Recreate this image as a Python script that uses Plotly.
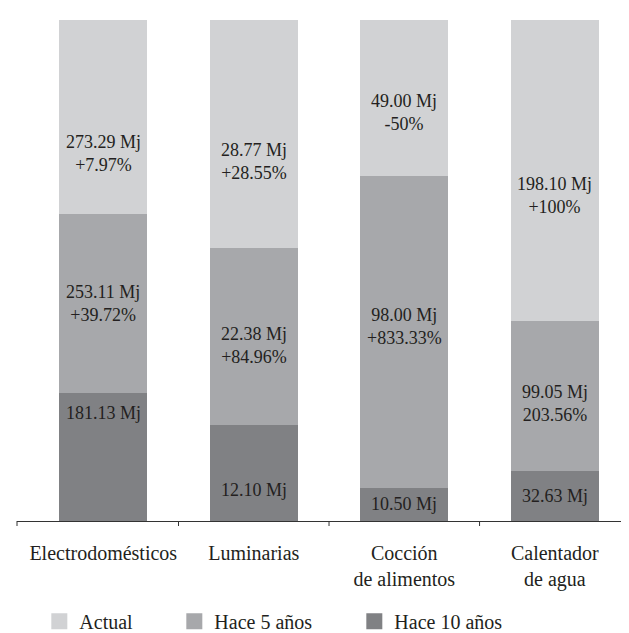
import plotly.graph_objects as go

categories = ["Electrodomésticos", "Luminarias", "Cocción<br>de alimentos", "Calentador<br>de agua"]

series_names = ["Actual", "Hace 5 años", "Hace 10 años"]
actual_mj = [273.29, 28.77, 49.00, 198.10]
actual_change = ["+7.97%", "+28.55%", "-50%", "+100%"]
hace5_mj = [253.11, 22.38, 98.00, 99.05]
hace5_change = ["+39.72%", "+84.96%", "+833.33%", "203.56%"]
hace10_mj = [181.13, 12.10, 10.50, 32.63]

colors = {"Actual": "#d1d2d4", "Hace 5 años": "#a7a8ab", "Hace 10 años": "#808184"}
legend_widths = {"Actual": 90, "Hace 5 años": 135, "Hace 10 años": 120}
# vertical shift (px, + = up) of each value label relative to its segment centre
label_shift = {
    "Actual": [-37, -28, -15, -25],
    "Hace 5 años": [0, -9, 5, -7],
    "Hace 10 años": [44, -17, 0, 0],
}

FONT = "Liberation Serif, Times New Roman, serif"
TXT = "#231f20"

def fmt(v):
    return f"{v:.2f} Mj"

text_actual = [f"{fmt(v)}<br>{c}" for v, c in zip(actual_mj, actual_change)]
text_5 = [f"{fmt(v)}<br>{c}" for v, c in zip(hace5_mj, hace5_change)]
text_10 = [fmt(v) for v in hace10_mj]

fig = go.Figure()
stack = [
    ("Hace 10 años", hace10_mj, text_10),
    ("Hace 5 años", hace5_mj, text_5),
    ("Actual", actual_mj, text_actual),
]
totals = [a + b + c for a, b, c in zip(actual_mj, hace5_mj, hace10_mj)]
base = [0.0] * len(categories)
annotations = []
for name, vals, txt in stack:
    fig.add_trace(go.Bar(
        x=categories, y=vals, name=name,
        marker=dict(color=colors[name], line=dict(width=0)),
        width=0.585, showlegend=False, hoverinfo="skip",
    ))
    for i, (cat, v, t) in enumerate(zip(categories, vals, txt)):
        pct = v / totals[i] * 100
        annotations.append(dict(
            x=cat, y=base[i] + pct / 2, xref="x", yref="y", text=t,
            showarrow=False, yanchor="middle", xanchor="center",
            yshift=label_shift[name][i],
            font=dict(family=FONT, size=18, color=TXT),
        ))
        base[i] += pct

# legend entries (square swatches)
for name in series_names:
    fig.add_trace(go.Scatter(
        x=[None], y=[None], mode="markers", name=name,
        marker=dict(symbol="square", size=16, color=colors[name]),
        legendwidth=legend_widths[name], showlegend=True,
    ))

shapes = []
for xv in [0.5, 1.5, 2.5]:
    shapes.append(dict(type="line", xref="x", yref="paper", x0=xv, x1=xv,
                       ysizemode="pixel", yanchor=0, y0=0, y1=-5,
                       line=dict(color="#333333", width=1)))
shapes.append(dict(type="line", xref="paper", yref="paper", x0=0, x1=0,
                   ysizemode="pixel", yanchor=0, y0=0, y1=-5,
                   line=dict(color="#333333", width=1)))

fig.update_layout(
    width=629, height=633,
    margin=dict(l=9, r=0, t=12, b=106),
    barmode="stack", barnorm="percent",
    plot_bgcolor="white", paper_bgcolor="white",
    font=dict(family=FONT, size=20, color=TXT),
    xaxis=dict(range=[-0.573, 3.546], showline=True, linecolor="#333333", linewidth=1,
               ticks="", showgrid=False, zeroline=False, ticklabelstandoff=14,
               tickfont=dict(family=FONT, size=20, color=TXT), fixedrange=True),
    yaxis=dict(range=[0, 100], visible=False, fixedrange=True),
    showlegend=True,
    legend=dict(orientation="h", traceorder="normal", x=0.036, xanchor="left",
                y=-0.161, yanchor="top",
                font=dict(family=FONT, size=20, color=TXT), bgcolor="rgba(0,0,0,0)"),
    shapes=shapes,
    annotations=annotations,
)

fig.write_html("out.html")
